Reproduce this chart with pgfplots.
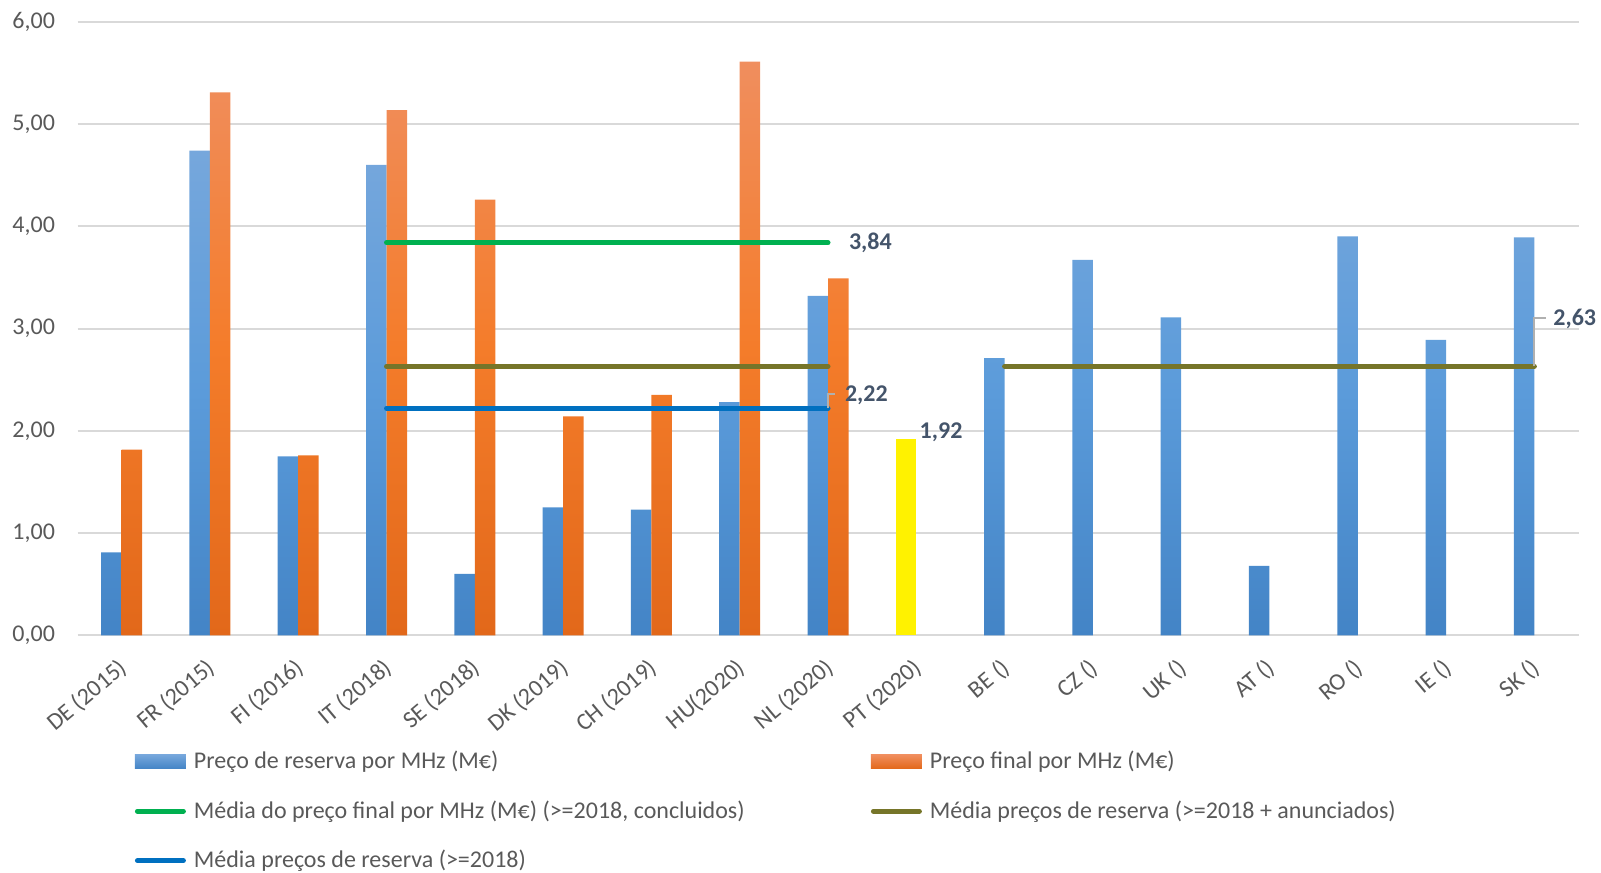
\documentclass[border=0pt]{standalone}
\usepackage{pgfplots}
\pgfplotsset{compat=1.18}
\usepackage{fontspec}
\setmainfont{Carlito}

\definecolor{tickgray}{HTML}{595959}
\definecolor{labc}{HTML}{44546A}
\definecolor{gridc}{HTML}{D9D9D9}
\definecolor{bluetop}{HTML}{76A7DC}
\definecolor{bluemid}{HTML}{5B9BDA}
\definecolor{bluebot}{HTML}{4384C6}
\definecolor{orgtop}{HTML}{F08E5E}
\definecolor{orgmid}{HTML}{F47C2A}
\definecolor{orgbot}{HTML}{E2681A}
\definecolor{avgfinal}{HTML}{00B050}
\definecolor{avgall}{HTML}{767529}
\definecolor{avgres}{HTML}{0070C0}
\definecolor{leader}{HTML}{B0B0B0}

\newcommand{\lbl}{\fontsize{12bp}{14bp}\selectfont}

\begin{document}
\begin{tikzpicture}
\useasboundingbox (-38.75bp,-118.85bp) rectangle (761.75bp,317.65bp);
\begin{axis}[
  at={(0,0)}, anchor=south west,
  scale only axis, width=750.5bp, height=306.8bp,
  xmin=-0.5, xmax=16.5, ymin=0, ymax=6,
  ybar, bar width=10.25bp,
  axis line style={draw=none},
  tick style={draw=none},
  ymajorgrids, grid style={color=gridc, line width=1bp},
  ytick={0,1,2,3,4,5,6},
  yticklabel style={font=\lbl, text=tickgray, xshift=-7.75bp,
    /pgf/number format/.cd, fixed, fixed zerofill, precision=2, use comma, assume math mode=true},
  xtick={0,...,16},
  xticklabels={DE (2015),FR (2015),FI (2016),IT (2018),SE (2018),DK (2019),CH (2019),HU(2020),NL (2020),PT (2020),BE (),CZ (),UK (),AT (),RO (),IE (),SK ()},
  xticklabel style={font=\lbl, text=tickgray, rotate=40, anchor=north east, xshift=-2.5bp, yshift=0bp},
  legend columns=2,
  legend cell align=left,
  legend style={at={(0.038,-0.165)}, anchor=north west, draw=none, fill=none,
    font=\lbl, text=tickgray, inner sep=0pt,
    nodes={inner sep=1.5bp, minimum height=24.75bp}},
]
% reserve price per MHz
\addplot[forget plot, draw=none, bar shift=-5.125bp, top color=bluetop, bottom color=bluebot, middle color=bluemid]
  coordinates {(0,0.81) (1,4.74) (2,1.75) (3,4.60) (4,0.60) (5,1.25) (6,1.23) (7,2.28) (8,3.32)
               (10,2.71) (11,3.67) (12,3.11) (13,0.68) (14,3.90) (15,2.89) (16,3.89)};
% PT highlighted
\addplot[forget plot, draw=none, bar shift=-5.125bp, fill=yellow]
  coordinates {(9,1.92)};
% final price per MHz
\addplot[forget plot, draw=none, bar shift=5.125bp, top color=orgtop, bottom color=orgbot, middle color=orgmid]
  coordinates {(0,1.815) (1,5.31) (2,1.76) (3,5.135) (4,4.26) (5,2.14) (6,2.35) (7,5.61) (8,3.49)};

% averages
\addplot[forget plot, sharp plot, line width=2.5bp, line cap=round, color=avgfinal]
  coordinates {(3,3.84) (8,3.84)};
\addplot[forget plot, sharp plot, line width=2.5bp, line cap=round, color=avgall]
  coordinates {(3,2.63) (8,2.63)};
\addplot[forget plot, sharp plot, line width=2.5bp, line cap=round, color=avgall]
  coordinates {(10,2.63) (16,2.63)};
\addplot[forget plot, sharp plot, line width=2.5bp, line cap=round, color=avgres]
  coordinates {(3,2.22) (8,2.22)};

\coordinate (p384) at (axis cs:8,3.84);
\coordinate (p222) at (axis cs:8,2.22);
\coordinate (p192) at (axis cs:9,1.92);
\coordinate (p263) at (axis cs:16,2.63);

% legend
\addlegendimage{legend image code/.code={\fill[draw=none, top color=bluetop, bottom color=bluebot] (0bp,-3.5bp) rectangle (25.5bp,3.5bp);}}
\addlegendentry{\makebox[339.5bp][l]{\hspace*{2.5bp}Preço de reserva por MHz (M€)}}
\addlegendimage{legend image code/.code={\fill[draw=none, top color=orgtop, bottom color=orgbot] (0bp,-3.5bp) rectangle (25.5bp,3.5bp);}}
\addlegendentry{\hspace*{2.5bp}Preço final por MHz (M€)}
\addlegendimage{legend image code/.code={\draw[line width=2.5bp, line cap=round, avgfinal] (1.25bp,0bp) -- (24.25bp,0bp);}}
\addlegendentry{\makebox[339.5bp][l]{\hspace*{2.5bp}Média do preço final por MHz (M€) (>=2018, concluidos)}}
\addlegendimage{legend image code/.code={\draw[line width=2.5bp, line cap=round, avgall] (1.25bp,0bp) -- (24.25bp,0bp);}}
\addlegendentry{\hspace*{2.5bp}Média preços de reserva (>=2018 + anunciados)}
\addlegendimage{legend image code/.code={\draw[line width=2.5bp, line cap=round, avgres] (1.25bp,0bp) -- (24.25bp,0bp);}}
\addlegendentry{\hspace*{2.5bp}Média preços de reserva (>=2018)}
\end{axis}

% data labels
\node[font=\lbl\bfseries, text=labc, anchor=west, xshift=7bp] at (p384) {3,84};
\draw[leader, line width=1bp] (p222) -- ++(0,7bp) -- ++(3.5bp,0);
\node[font=\lbl\bfseries, text=labc, anchor=west, xshift=5bp, yshift=6.5bp] at (p222) {2,22};
\node[font=\lbl\bfseries, text=labc, anchor=west, xshift=-1.8bp, yshift=3.5bp] at (p192) {1,92};
\draw[leader, line width=1bp] (p263) -- ++(0,24bp) -- ++(6bp,0);
\node[font=\lbl\bfseries, text=labc, anchor=west, xshift=6bp, yshift=23.5bp] at (p263) {2,63};
\end{tikzpicture}
\end{document}
